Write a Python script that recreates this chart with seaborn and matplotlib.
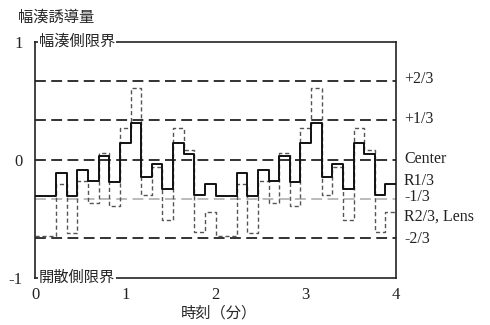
import numpy as np
import pandas as pd
import matplotlib
matplotlib.use('Agg')
import matplotlib.pyplot as plt
import matplotlib.transforms as mtransforms
import seaborn as sns

# ---- data ----
step_minutes = 2 / 17          # width of one step, minutes
r13 = [-0.31, -0.31, -0.11, -0.31, -0.09, -0.18, 0.03, -0.19, 0.14, 0.31,
       -0.15, -0.04, -0.25, 0.14, 0.05, -0.30, -0.21,
       -0.31, -0.31, -0.11, -0.31, -0.09, -0.18, 0.03, -0.19, 0.14, 0.31,
       -0.15, -0.04, -0.25, 0.14, 0.05, -0.30, -0.21]
r23_lens = [-0.65, -0.65, -0.21, -0.62, -0.18, -0.37, 0.06, -0.39, 0.27, 0.61,
            -0.30, -0.06, -0.51, 0.27, 0.08, -0.61, -0.44,
            -0.65, -0.65, -0.21, -0.62, -0.18, -0.37, 0.06, -0.39, 0.27, 0.61,
            -0.30, -0.06, -0.51, 0.27, 0.08, -0.61, -0.44]
ref_levels = [2/3, 1/3, 0, -1/3, -2/3]
ref_gray = [False, False, False, True, False]
right_labels = ['+2/3', '+1/3', 'Center', 'R1/3', '-1/3', 'R2/3, Lens', '-2/3']
right_label_y = [0.686, 0.342, 0.008, -0.178, -0.318, -0.481, -0.675]
x_ticks = [0, 1, 2, 3, 4]
y_ticks = [-1, 0, 1]
y_ticklabels = ['-1', '0', '1']
top_label = '幅湊側限界'
bottom_label = '開散側限界'
y_title = '幅湊誘導量'
x_title = '時刻（分）'

sns.set_style('white')
plt.rcParams['font.family'] = ['Liberation Serif', 'Noto Sans CJK JP']
plt.rcParams['axes.unicode_minus'] = False

n = len(r13)
times = np.arange(n + 1) * step_minutes
df = pd.DataFrame({'t': times,
                   'R1/3': r13 + [r13[-1]],
                   'R2/3, Lens': r23_lens + [r23_lens[-1]]})

fig = plt.figure(figsize=(4.9, 3.25), dpi=100)
ax = fig.add_axes([35/490, 47.3/325, 361/490, 236/325])

for lv, g in zip(ref_levels, ref_gray):
    ax.axhline(lv, color='#b5b5b5' if g else '#222222', lw=1.3,
               linestyle=(0, (6, 3)), zorder=1)

sns.lineplot(data=df, x='t', y='R2/3, Lens', drawstyle='steps-post',
             color='#555555', lw=1.0, linestyle=(0, (3, 2)),
             estimator=None, ax=ax, zorder=2)
sns.lineplot(data=df, x='t', y='R1/3', drawstyle='steps-post',
             color='#111111', lw=1.4, estimator=None, ax=ax, zorder=3)

ax.set_xlim(0, 4)
ax.set_ylim(-1, 1)
ax.set_xticks(x_ticks)
ax.set_xticklabels([str(v) for v in x_ticks], fontsize=12)
ax.set_yticks(y_ticks)
ax.set_yticklabels(y_ticklabels, fontsize=12)
ax.tick_params(axis='x', direction='in', length=4, width=1, pad=7, colors='#222222')
ax.tick_params(axis='y', length=0, pad=9, colors='#222222')
ax.set_xlabel('')
ax.set_ylabel('')
for s in ax.spines.values():
    s.set_color('#222222')
    s.set_linewidth(1.2)

ax.text(0.011, 1, top_label, transform=ax.transAxes, ha='left', va='center',
        fontsize=11, bbox=dict(fc='white', ec='none', pad=0.6), zorder=5)
ax.text(0.011, 0, bottom_label, transform=ax.transAxes, ha='left', va='center',
        fontsize=11, bbox=dict(fc='white', ec='none', pad=0.6), zorder=5)

trans = mtransforms.blended_transform_factory(ax.transAxes, ax.transData)
for lab, yv in zip(right_labels, right_label_y):
    ax.text(1.022, yv, lab, transform=trans, ha='left', va='center',
            fontsize=11.5, color='#222222')

fig.text(18/490, 1 - 17/325, y_title, ha='left', va='center', fontsize=11)
fig.text(219/490, 1 - 313/325, x_title, ha='center', va='center', fontsize=11)

fig.savefig('out.png', dpi=100)
